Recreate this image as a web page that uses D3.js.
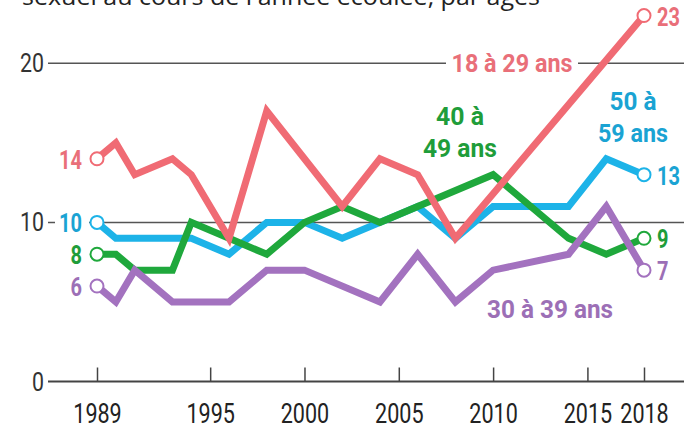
<!DOCTYPE html>
<html><head><meta charset="utf-8">
<script src="https://cdn.jsdelivr.net/npm/d3@7"></script>
<style>body{margin:0;background:#fff}svg{display:block}</style>
</head><body><svg id="c" width="696" height="428"></svg>
<script>
// ---- data ----
const years    = [1989,1990,1991,1993,1994,1996,1998,2000,2002,2004,2006,2008,2010,2014,2016,2018];
const age18_29 = [14, 15, 13, 14, 13, 9, 17, null, 11, 14, 13, 9, null, null, null, 23];
const age30_39 = [6, 5, 7, 5, null, 5, 7, 7, null, 5, 8, 5, 7, 8, 11, 7];
const age40_49 = [8, 8, 7, 7, 10, 9, 8, 10, 11, 10, 11, null, 13, 9, 8, 9];
const age50_59 = [10, 9, null, null, 9, 8, 10, 10, 9, null, 11, 9, 11, 11, 14, 13];
const seriesNames = ["18 à 29 ans", "30 à 39 ans", "40 à 49 ans", "50 à 59 ans"];
const xTicks = [1989, 1995, 2000, 2005, 2010, 2015, 2018];
const yTicks = [0, 10, 20];
const title = "sexuel au cours de l'année écoulée, par âges";

const colors = {"18 à 29 ans":"#f06b74","30 à 39 ans":"#a372bf","40 à 49 ans":"#1fa83c","50 à 59 ans":"#1db3e8"};
const labelColors = {"18 à 29 ans":"#e96f79","30 à 39 ans":"#9c6fb6","40 à 49 ans":"#1f9d3a","50 à 59 ans":"#1aa3d3"};
const seriesData = {"18 à 29 ans":age18_29,"30 à 39 ans":age30_39,"40 à 49 ans":age40_49,"50 à 59 ans":age50_59};

const svg = d3.select("#c");
const font = "Roboto,'Open Sans',sans-serif";

// squeeze text horizontally (the original uses a condensed face)
function squeeze(sel, k) {
  sel.each(function () {
    const w = this.getComputedTextLength();
    d3.select(this).attr("textLength", w * k).attr("lengthAdjust", "spacingAndGlyphs");
  });
  return sel;
}

const x = d3.scaleLinear().domain([1989, 2018]).range([97, 644]);
const y = d3.scaleLinear().domain([0, 20]).range([381.5, 63.3]);

// title (cut at the top)
svg.append("text").attr("x", 22).attr("y", 5).text(title)
  .attr("font-family", "'Open Sans',sans-serif").attr("font-size", 24).attr("fill", "#222")
  .attr("textLength", 518).attr("lengthAdjust", "spacingAndGlyphs");

// grid lines
svg.append("g").selectAll("line").data(yTicks.filter(d => d > 0)).join("line")
  .attr("x1", 48).attr("x2", 684).attr("y1", d => y(d)).attr("y2", d => y(d))
  .attr("stroke", "#555").attr("stroke-width", 1.5);

// x axis
const xAxis = d3.axisBottom(x).tickValues(xTicks).tickFormat(d3.format("d")).tickSize(0).tickPadding(0);
const gx = svg.append("g").attr("transform", `translate(0,${y(0)})`).call(xAxis);
gx.select(".domain").remove();
gx.selectAll(".tick text").remove();
svg.append("line").attr("x1", 48).attr("x2", 684).attr("y1", y(0)).attr("y2", y(0))
  .attr("stroke", "#444").attr("stroke-width", 2);
gx.selectAll(".tick").append("line").attr("y1", -14).attr("y2", 0).attr("stroke", "#444").attr("stroke-width", 1.5);
squeeze(gx.selectAll(".tick").append("text").attr("y", 41).attr("text-anchor", "middle")
  .attr("font-family", font).attr("font-size", 28).attr("fill", "#222").text(d => d), 0.77);

// y axis labels
squeeze(svg.append("g").selectAll("text").data(yTicks).join("text")
  .attr("x", 44).attr("y", d => y(d) + 9).attr("text-anchor", "end")
  .attr("font-family", font).attr("font-size", 26).attr("fill", "#333").text(d => d), 0.82);

// lines (drawing order: blue, green, purple, red)
const order = ["50 à 59 ans", "40 à 49 ans", "30 à 39 ans", "18 à 29 ans"];
const line = d3.line().x(d => x(d[0])).y(d => y(d[1]));
order.forEach(name => {
  const pts = years.map((yr, i) => [yr, seriesData[name][i]]).filter(d => d[1] != null);
  svg.append("path").datum(pts).attr("d", line).attr("fill", "none")
    .attr("stroke", colors[name]).attr("stroke-width", 7).attr("stroke-linejoin", "miter");
});

// background patches behind labels sitting on grid lines
svg.append("rect").attr("x", 446).attr("y", y(20) - 14).attr("width", 132).attr("height", 26).attr("fill", "#fff");
svg.append("rect").attr("x", 55).attr("y", y(10) - 10).attr("width", 34).attr("height", 20).attr("fill", "#fff");

// end circles and values
const first = years[0], last = years[years.length - 1];
order.forEach(name => {
  const vals = seriesData[name];
  [[first, vals[0]], [last, vals[vals.length - 1]]].forEach(p => {
    svg.append("circle").attr("cx", x(p[0])).attr("cy", y(p[1])).attr("r", 6.5)
      .attr("fill", "#fff").attr("stroke", colors[name]).attr("stroke-width", 2);
  });
  squeeze(svg.append("text").attr("x", x(first) - 15).attr("y", y(vals[0]) + 10).attr("text-anchor", "end")
    .attr("font-family", font).attr("font-weight", "bold").attr("font-size", 25)
    .attr("fill", labelColors[name]).text(vals[0]), 0.8);
  squeeze(svg.append("text").attr("x", x(last) + 13).attr("y", y(vals[vals.length - 1]) + 10)
    .attr("font-family", font).attr("font-weight", "bold").attr("font-size", 25)
    .attr("fill", labelColors[name]).text(vals[vals.length - 1]), 0.8);
});

// series labels
function seriesLabel(name, cx, baselines, lines, widths) {
  lines.forEach((t, i) => {
    svg.append("text").attr("x", cx).attr("y", baselines[i]).attr("text-anchor", "middle")
      .attr("font-family", font).attr("font-weight", "bold").attr("font-size", 26.5)
      .attr("fill", labelColors[name]).text(t)
      .attr("textLength", widths[i]).attr("lengthAdjust", "spacingAndGlyphs");
  });
}
seriesLabel("18 à 29 ans", 512, [72], ["18 à 29 ans"], [121]);
seriesLabel("40 à 49 ans", 460, [125, 157], ["40 à", "49 ans"], [48, 74]);
seriesLabel("50 à 59 ans", 633, [110, 142], ["50 à", "59 ans"], [47, 70]);
seriesLabel("30 à 39 ans", 550, [318], ["30 à 39 ans"], [126]);
</script></body></html>
